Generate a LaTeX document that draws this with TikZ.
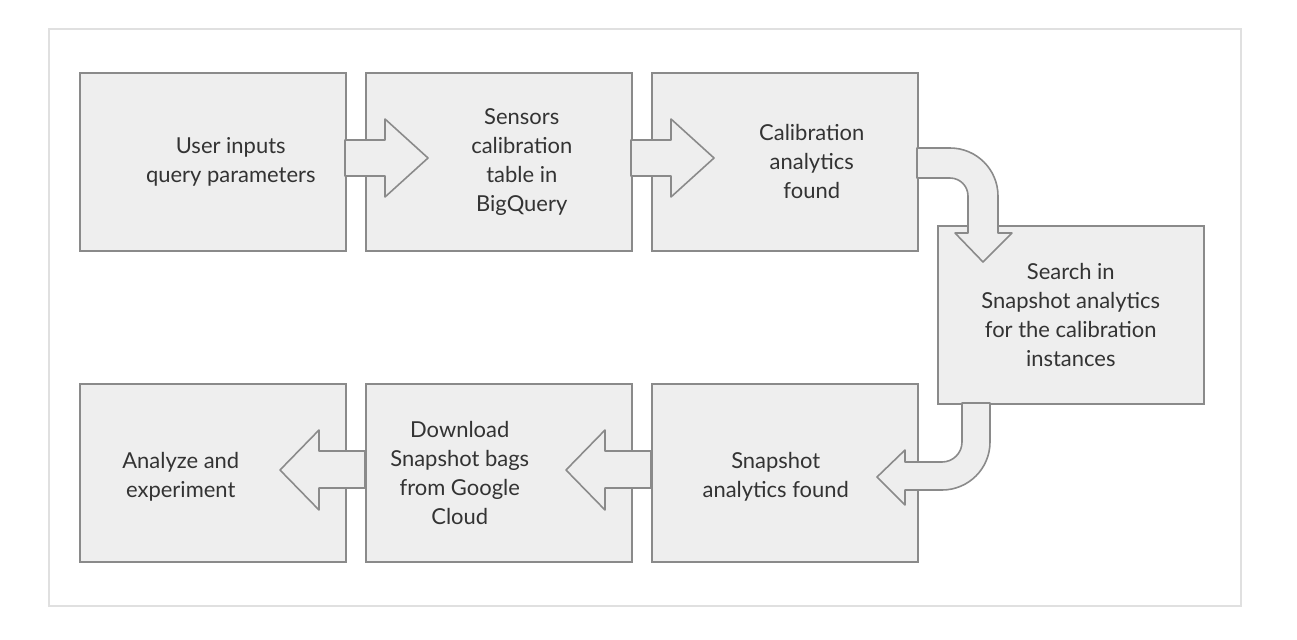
\documentclass[tikz,border=0pt]{standalone}
\usepackage{fontspec}
\setmainfont{Lato}
\usepackage{xcolor}
\usetikzlibrary{positioning}
\definecolor{boxfill}{HTML}{EEEEEE}
\definecolor{boxline}{HTML}{8A8A8A}
\definecolor{txt}{HTML}{333333}
\tikzset{
  stage/.style={draw=boxline, fill=boxfill, line width=0.9pt, minimum width=5.32cm,
    minimum height=3.56cm, inner sep=0pt, anchor=north west},
  caption/.style={align=center, text=txt, inner sep=0pt,
    font=\fontsize{12.5}{16.5}\selectfont},
  flow/.style={draw=boxline, fill=boxfill, line width=0.9pt, line join=round}
}
\begin{document}
\begin{tikzpicture}[x=0.02cm, y=-0.02cm]
				\useasboundingbox (0,0) rectangle (1297,639);
				\draw [black!12, line width=2pt] (50,30) rectangle (1240,605);
				\fill [white] (50,30) rectangle (1240,605);
				
				\node [stage] (user) at (79,72) {};
				\node [stage] (table) at (365,72) {};
				\node [stage] (calib) at (651,72) {};
				\node [stage] (search) at (937,225) {};
				\node [stage] (snap) at (651,383) {};
				\node [stage] (bags) at (365,383) {};
				\node [stage] (analyze) at (79,383) {};
				
				\node [caption, xshift=0.36cm] (userText) at (user.center) {User inputs\\query parameters};
				\node [caption, xshift=0.46cm] (tableText) at (table.center) {Sensors\\calibration\\table in\\BigQuery};
				\node [caption, xshift=0.54cm] (calibText) at (calib.center) {Calibration\\analytics\\found};
				\node [caption] (searchText) at (search.center) {Search in\\Snapshot analytics\\for the calibration\\instances};
				\node [caption, xshift=-0.18cm, yshift=-0.08cm] (snapText) at (snap.center) {Snapshot\\analytics found};
				\node [caption, xshift=-0.78cm] (bagsText) at (bags.center) {Download\\Snapshot bags\\from Google\\Cloud};
				\node [caption, xshift=-0.64cm, yshift=-0.08cm] (analyzeText) at (analyze.center) {Analyze and\\experiment};
				
				% block arrows
				\foreach \x in {345,631}
				\draw [flow] (\x,140)--++(40,0)--++(0,-21)--++(43,39)--++(-43,39)--++(0,-21)--++(-40,0)--cycle;
				\foreach \x in {651,365}
				\draw [flow] (\x,451)--++(-46,0)--++(0,-21)--++(-39,40)--++(39,40)--++(0,-22)--++(46,0)--cycle;
				
				\draw [flow] (917,148)--(950,148) arc (-90:0:48)--(998,233)--(1012,233)
				--(983,262)--(955,233)--(968,233)--(968,196) arc (0:-90:18)--(917,178)--cycle;
				
				\draw [flow] (962,403)--(990,403)--(990,442) arc (0:90:48)--(905,490)--(905,505)
				--(877,477)--(905,450)--(905,462)--(942,462) arc (90:0:20)--cycle;
			\end{tikzpicture}
\end{document}
